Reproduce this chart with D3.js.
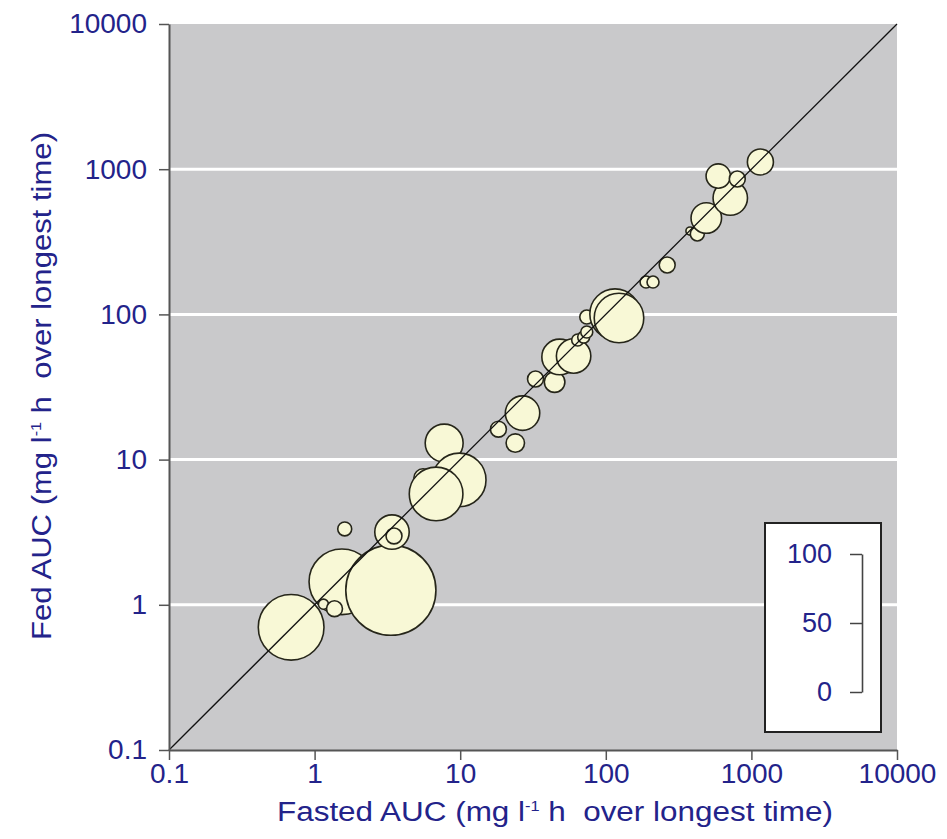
<!DOCTYPE html>
<html lang="en">
<head>
  <meta charset="UTF-8">
  <title>Fed vs Fasted AUC</title>
  <script src="https://d3js.org/d3.v7.min.js"></script>
  <style>
    body { margin: 0; background: #fff; }
    text { font-family: "Liberation Sans", Arial, sans-serif; }
  </style>
</head>
<body>
  <svg id="chart" width="947" height="839"></svg>

  <script>
    // values
    const fasted = [0.69, 1.54, 3.34, 5.56, 7.76, 9.84, 6.83, 1.15, 1.37, 1.61, 3.40, 3.51,
      18.3, 26.8, 23.9, 32.9, 44.5, 48.2, 60.1, 64.1, 70.5, 74.0, 74.0, 115.7, 123.2,
      189, 211, 264, 379, 425, 490, 716, 592, 800, 1153]
    const fed = [0.70, 1.44, 1.26, 7.47, 13.0, 7.24, 5.80, 1.01, 0.94, 3.33, 3.17, 2.98,
      16.2, 20.9, 13.0, 35.9, 34.2, 50.9, 51.7, 66.6, 69.8, 75.7, 95.9, 100.6, 94.4,
      167, 167, 219, 375, 358, 461, 633, 897, 856, 1121]
    const size = [51, 51, 96, 4, 17, 34, 34, 1.2, 3, 2.3, 14, 3,
      3, 14, 4, 3, 5, 15, 14, 1.7, 1.7, 1.7, 2.3, 30, 29,
      1.7, 1.7, 3, 0.8, 2.3, 11, 14, 7, 3, 8]

    const axisTicks = [0.1, 1, 10, 100, 1000, 10000]
    const gridValues = [1, 10, 100, 1000]
    const legendTicks = [0, 50, 100]

    const navy = "#23238a"
    const svg = d3.select("#chart")

    const x = d3.scaleLog().domain([0.1, 10000]).range([169, 897])
    const y = d3.scaleLog().domain([0.1, 10000]).range([750, 24])
    const r = d3.scaleSqrt().domain([0, 100]).range([0, 46])

    // plot background
    svg.append("rect")
      .attr("x", x(0.1))
      .attr("y", y(10000))
      .attr("width", x(10000) - x(0.1))
      .attr("height", y(0.1) - y(10000))
      .attr("fill", "#c9c9cb")

    svg.selectAll(".grid")
      .data(gridValues)
      .join("line")
      .attr("class", "grid")
      .attr("x1", x(0.1))
      .attr("x2", x(10000))
      .attr("y1", d => y(d))
      .attr("y2", d => y(d))
      .attr("stroke", "#fff")
      .attr("stroke-width", 3)

    // bubbles
    const pts = fasted.map((d, i) => ({ fasted: d, fed: fed[i], size: size[i] }))
    svg.selectAll(".bubble")
      .data(pts)
      .join("circle")
      .attr("class", "bubble")
      .attr("cx", d => x(d.fasted))
      .attr("cy", d => y(d.fed))
      .attr("r", d => r(d.size))
      .attr("fill", "#f8f8d6")
      .attr("stroke", "#26261a")
      .attr("stroke-width", 1.6)

    // line of identity
    svg.append("line")
      .attr("x1", x(0.1)).attr("y1", y(0.1))
      .attr("x2", x(10000)).attr("y2", y(10000))
      .attr("stroke", "#111")
      .attr("stroke-width", 1.3)

    const fmt = d => String(d)

    const gx = svg.append("g")
      .attr("transform", "translate(0," + y(0.1) + ")")
      .call(d3.axisBottom(x).tickValues(axisTicks).tickFormat(fmt)
        .tickSize(10).tickSizeOuter(0).tickPadding(3))
    const gy = svg.append("g")
      .attr("transform", "translate(" + x(0.1) + ",0)")
      .call(d3.axisLeft(y).tickValues(axisTicks).tickFormat(fmt)
        .tickSize(10).tickSizeOuter(0).tickPadding(12))

    ;[gx, gy].forEach(g => {
      g.select(".domain").attr("stroke", "#555").attr("stroke-width", 2)
      g.selectAll(".tick line").attr("stroke", "#555").attr("stroke-width", 1.5)
      g.selectAll(".tick text")
        .attr("fill", navy)
        .style("font-size", "28px")
        .style("font-family", "'Liberation Sans', Arial, sans-serif")
    })

    // axis titles
    const xt = svg.append("text")
      .attr("x", 555)
      .attr("y", 821)
      .attr("text-anchor", "middle")
      .attr("fill", navy)
      .style("font-size", "27px")
      .style("white-space", "pre")
      .attr("textLength", 556)
      .attr("lengthAdjust", "spacingAndGlyphs")
    xt.append("tspan").text("Fasted AUC (mg l")
    xt.append("tspan").attr("dy", -10).style("font-size", "14px").text("-1")
    xt.append("tspan").attr("dy", 10).text(" h  over longest time)")

    const yt = svg.append("text")
      .attr("transform", "translate(51,386) rotate(-90)")
      .attr("text-anchor", "middle")
      .attr("fill", navy)
      .style("font-size", "27px")
      .style("white-space", "pre")
      .attr("textLength", 508)
      .attr("lengthAdjust", "spacingAndGlyphs")
    yt.append("tspan").text("Fed AUC (mg l")
    yt.append("tspan").attr("dy", -10).style("font-size", "14px").text("-1")
    yt.append("tspan").attr("dy", 10).text(" h  over longest time)")

    // size legend
    svg.append("rect")
      .attr("x", 765)
      .attr("y", 523)
      .attr("width", 116)
      .attr("height", 209)
      .attr("fill", "#fff")
      .attr("stroke", "#222")
      .attr("stroke-width", 2)

    const legendScale = d3.scaleLinear().domain([0, 100]).range([692, 554])
    const gl = svg.append("g")
      .attr("transform", "translate(862,0)")
      .call(d3.axisLeft(legendScale).tickValues(legendTicks)
        .tickSize(12).tickSizeOuter(0).tickPadding(18))
    gl.select(".domain").attr("stroke", "#444").attr("stroke-width", 1.6)
    gl.selectAll(".tick line").attr("stroke", "#444").attr("stroke-width", 1.5)
    gl.selectAll(".tick text")
      .attr("fill", navy)
      .style("font-size", "27px")
      .style("font-family", "'Liberation Sans', Arial, sans-serif")
  </script>
</body>
</html>
